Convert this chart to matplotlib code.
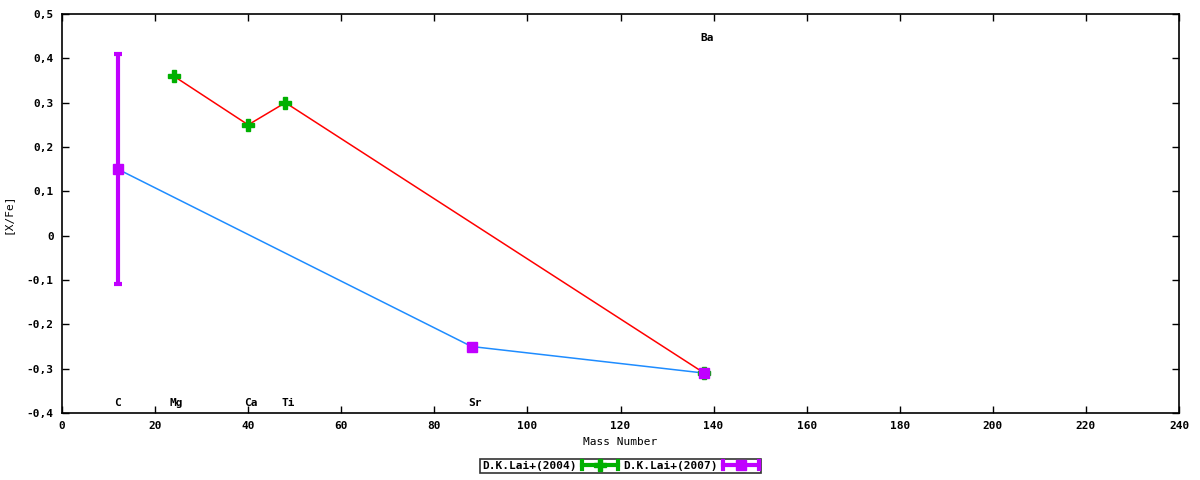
import matplotlib
matplotlib.use('Agg')
import matplotlib.pyplot as plt
from matplotlib.ticker import FuncFormatter
from matplotlib.lines import Line2D
from matplotlib.legend_handler import HandlerBase

# D.K.Lai+(2004): Mg, Ca, Ti, Ba
mass_2004 = [24, 40, 48, 138]
xfe_2004 = [0.36, 0.25, 0.30, -0.31]

# D.K.Lai+(2007): C, Sr, Ba
mass_2007 = [12, 88, 138]
xfe_2007 = [0.15, -0.25, -0.31]
err_lo_2007 = [0.26, 0.0, 0.0]
err_hi_2007 = [0.26, 0.0, 0.0]

# element labels
elements = ['C', 'Mg', 'Ca', 'Ti', 'Sr', 'Ba']
elem_mass = [12, 24, 40, 48, 88, 138]
elem_y = [-0.378, -0.378, -0.378, -0.378, -0.378, 0.445]

green = '#00b000'
purple = '#c000ff'

plt.rcParams['font.family'] = ['DejaVu Sans Mono']
plt.rcParams['font.weight'] = 'bold'
plt.rcParams['font.size'] = 8


class ErrKey(HandlerBase):
    # gnuplot style key sample: horizontal bar with end caps and the point in the middle
    def __init__(self, color, marker, ms):
        super().__init__()
        self.color = color
        self.marker = marker
        self.ms = ms

    def create_artists(self, legend, orig_handle, xdescent, ydescent, width, height, fontsize, trans):
        y = height / 2 - ydescent
        x0, x1 = -xdescent, width - xdescent
        bar = Line2D([x0, x1], [y, y], color=self.color, lw=3, transform=trans)
        cap0 = Line2D([x0, x0], [y - 3, y + 3], color=self.color, lw=3, transform=trans)
        cap1 = Line2D([x1, x1], [y - 3, y + 3], color=self.color, lw=3, transform=trans)
        pt = Line2D([(x0 + x1) / 2], [y], marker=self.marker, ms=self.ms, color=self.color,
                    ls='none', transform=trans)
        return [bar, cap0, cap1, pt]


fig = plt.figure(figsize=(12, 4.8), dpi=100)
ax = fig.add_axes([62/1200, 1-413/480, 1117/1200, 399/480])

ax.plot(mass_2004, xfe_2004, color='red', lw=1.1, zorder=2)
ax.plot(mass_2007, xfe_2007, color='#1e8cff', lw=1.1, zorder=2)

ax.plot(mass_2004, xfe_2004, 'P', color=green, ms=8, zorder=3)
ax.errorbar(mass_2007[:1], xfe_2007[:1], yerr=[err_lo_2007[:1], err_hi_2007[:1]], fmt='none',
            ecolor=purple, elinewidth=3, capsize=3, capthick=3, zorder=4)
ax.plot(mass_2007, xfe_2007, 's', color=purple, ms=7, zorder=5)

for el, m, y in zip(elements, elem_mass, elem_y):
    ax.text(m - 0.8, y, el, ha='left', va='center', fontsize=8, fontweight='bold')

ax.set_xlim(0, 240)
ax.set_ylim(-0.4, 0.5)
ax.set_xticks(range(0, 241, 20))
ax.set_yticks([-0.4, -0.3, -0.2, -0.1, 0, 0.1, 0.2, 0.3, 0.4, 0.5])

def comma_fmt(v, pos):
    if abs(v) < 1e-9:
        return '0'
    return ('%.1f' % v).replace('.', ',')

ax.yaxis.set_major_formatter(FuncFormatter(comma_fmt))
ax.tick_params(direction='in', top=True, right=True, length=5, width=1, pad=6)
for s in ax.spines.values():
    s.set_linewidth(1.2)

ax.set_xlabel('Mass Number', labelpad=4)
ax.set_ylabel('[X/Fe]', labelpad=10)

h1 = Line2D([], [], color=green)
h2 = Line2D([], [], color=purple)
leg = ax.legend(handles=[h1, h2], labels=['D.K.Lai+(2004)', 'D.K.Lai+(2007)'],
                handler_map={h1: ErrKey(green, 'P', 8), h2: ErrKey(purple, 's', 7)},
                loc='upper center', bbox_to_anchor=(0.5, -0.115),
                ncol=2, markerfirst=False, frameon=True, fancybox=False,
                edgecolor='black', borderpad=0.2, handlelength=3.2,
                columnspacing=0.5, handletextpad=0.5, borderaxespad=0)
leg.get_frame().set_linewidth(1.2)

fig.savefig('out.png', dpi=100)
